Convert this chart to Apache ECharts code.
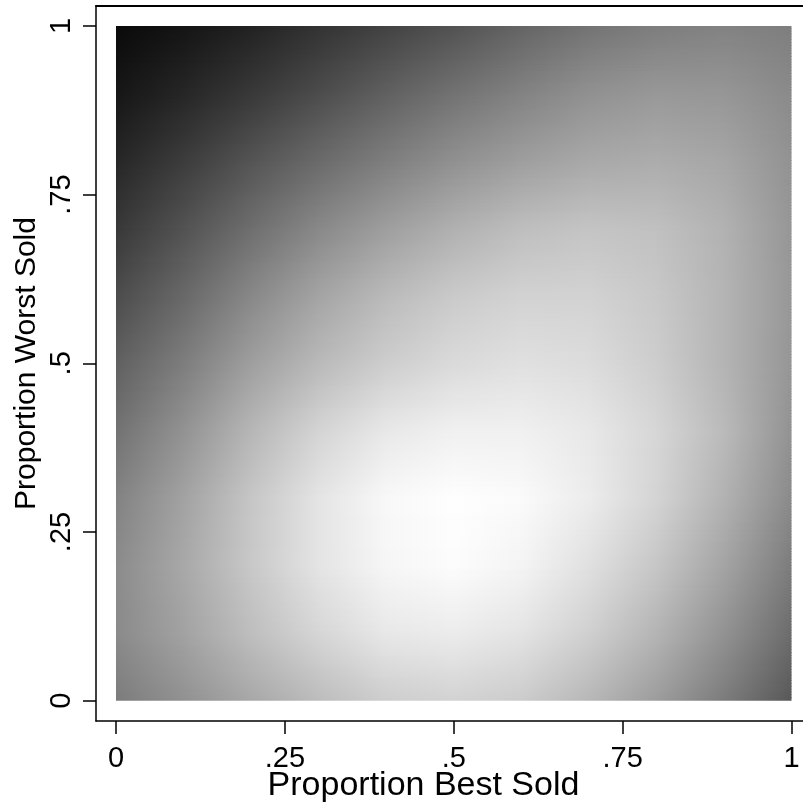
<!DOCTYPE html>
<html>
<head>
<meta charset="utf-8">
<script src="https://cdn.jsdelivr.net/npm/echarts@6/dist/echarts.min.js"></script>
<style>html,body{margin:0;padding:0;background:#fff;}#chart{width:803px;height:803px;}</style>
</head>
<body>
<div id="chart"></div>
<script>
// grid nodes (Proportion Best Sold on x, Proportion Worst Sold on y)
const gridX = [0, 0.1, 0.2, 0.3, 0.4, 0.5, 0.6, 0.7, 0.8, 0.9, 1];
const gridY = [0, 0.1, 0.2, 0.3, 0.4, 0.5, 0.6, 0.7, 0.8, 0.9, 1];
// grey level (0 = black, 255 = white) read at each node, one array per y row
const shadeY00 = [124, 145, 168, 188, 205, 210, 203, 183, 156, 124, 88];
const shadeY01 = [138, 162, 190, 214, 232, 236, 228, 208, 180, 146, 108];
const shadeY02 = [139, 168, 200, 228, 246, 252, 244, 224, 198, 164, 124];
const shadeY03 = [130, 162, 198, 228, 248, 254, 250, 236, 212, 178, 138];
const shadeY04 = [114, 146, 182, 212, 232, 240, 240, 232, 214, 186, 146];
const shadeY05 = [96, 125, 158, 185, 205, 218, 224, 220, 205, 180, 150];
const shadeY06 = [76, 104, 136, 164, 186, 202, 210, 210, 200, 180, 151];
const shadeY07 = [56, 82, 110, 136, 158, 176, 190, 196, 192, 178, 150];
const shadeY08 = [38, 60, 84, 106, 126, 144, 158, 168, 172, 166, 146];
const shadeY09 = [22, 38, 56, 76, 96, 114, 130, 145, 152, 150, 138];
const shadeY10 = [10, 20, 34, 50, 66, 82, 100, 115, 125, 130, 126];
const shadeRows = [shadeY00, shadeY01, shadeY02, shadeY03, shadeY04, shadeY05,
                   shadeY06, shadeY07, shadeY08, shadeY09, shadeY10];
// tick values and labels
const xTicks = [0, 0.25, 0.5, 0.75, 1];
const yTicks = [0, 0.25, 0.5, 0.75, 1];
const xTitle = 'Proportion Best Sold';
const yTitle = 'Proportion Worst Sold';

function tickLabel(v) {
  if (v === 0) return '0';
  if (v === 1) return '1';
  return String(v).replace(/^0\./, '.');
}
function grey(v) {
  const g = Math.max(0, Math.min(255, Math.round(v)));
  return 'rgb(' + g + ',' + g + ',' + g + ')';
}

const bands = [];
for (let j = 0; j < gridY.length - 1; j++) bands.push([gridY[j], gridY[j + 1], j]);

const SUB = 24;
function renderBand(params, api) {
  const yLo = api.value(0), yHi = api.value(1), j = api.value(2);
  const lo = shadeRows[j], hi = shadeRows[j + 1];
  const children = [];
  for (let k = 0; k < SUB; k++) {
    const t0 = k / SUB, t1 = (k + 1) / SUB, tm = (k + 0.5) / SUB;
    const yb = yLo + (yHi - yLo) * t0, yt = yLo + (yHi - yLo) * t1;
    const pTL = api.coord([gridX[0], yt]);
    const pBR = api.coord([gridX[gridX.length - 1], yb]);
    const isTop = (k === SUB - 1 && j === gridY.length - 2);
    const stops = gridX.map((gx, i) => ({
      offset: (gx - gridX[0]) / (gridX[gridX.length - 1] - gridX[0]),
      color: grey(lo[i] + (hi[i] - lo[i]) * tm)
    }));
    children.push({
      type: 'rect',
      shape: { x: pTL[0], y: pTL[1] - (isTop ? 0 : 0.8),
               width: pBR[0] - pTL[0],
               height: pBR[1] - pTL[1] + (isTop ? 0 : 0.8) },
      style: { fill: new echarts.graphic.LinearGradient(0, 0, 1, 0, stops), stroke: null }
    });
  }
  return { type: 'group', children: children };
}

const chart = echarts.init(document.getElementById('chart'), null, { renderer: 'canvas' });
const FONT = 'Liberation Sans, Arial, sans-serif';
// plot range padded so the frame sits outside the shaded square, as in the reference
const xMin = -0.0296, xMax = 1.0170, yMin = -0.0301, yMax = 1.0296;
chart.setOption({
  animation: false,
  backgroundColor: '#ffffff',
  grid: { left: 96, right: 0, top: 6, bottom: 82, containLabel: false, outerBoundsMode: 'none' },
  xAxis: [{
    type: 'value', min: xMin, max: xMax, position: 'bottom',
    axisLine: { show: true, onZero: false, lineStyle: { color: '#000', width: 1.5 } },
    axisTick: { show: true, length: 13, lineStyle: { color: '#000', width: 1.5 }, customValues: xTicks },
    axisLabel: { show: true, customValues: xTicks, formatter: tickLabel, color: '#000',
                 fontFamily: FONT, fontSize: 29, margin: 23, hideOverlap: false },
    splitLine: { show: false },
    name: xTitle, nameLocation: 'middle', nameGap: 48, nameMoveOverlap: false,
    nameTextStyle: { color: '#000', fontFamily: FONT, fontSize: 34, padding: [0, 52, 0, 0] }
  }, {
    type: 'value', min: xMin, max: xMax, position: 'top',
    axisLine: { show: true, onZero: false, lineStyle: { color: '#000', width: 2 } },
    axisTick: { show: false }, axisLabel: { show: false }, splitLine: { show: false }
  }],
  yAxis: [{
    type: 'value', min: yMin, max: yMax, position: 'left',
    axisLine: { show: true, onZero: false, lineStyle: { color: '#000', width: 1.5 } },
    axisTick: { show: true, length: 13, lineStyle: { color: '#000', width: 1.5 }, customValues: yTicks },
    axisLabel: { show: true, customValues: yTicks, formatter: tickLabel, color: '#000',
                 fontFamily: FONT, fontSize: 29, margin: 20, rotate: 90, hideOverlap: false },
    splitLine: { show: false },
    name: yTitle, nameLocation: 'middle', nameGap: 54, nameRotate: 90, nameMoveOverlap: false,
    nameTextStyle: { color: '#000', fontFamily: FONT, fontSize: 30 }
  }],
  series: [{
    type: 'custom',
    silent: true,
    xAxisIndex: 0, yAxisIndex: 0,
    dimensions: ['yLow', 'yHigh', 'row'],
    encode: { y: [0, 1] },
    data: bands,
    renderItem: renderBand
  }]
});
</script>
</body>
</html>
